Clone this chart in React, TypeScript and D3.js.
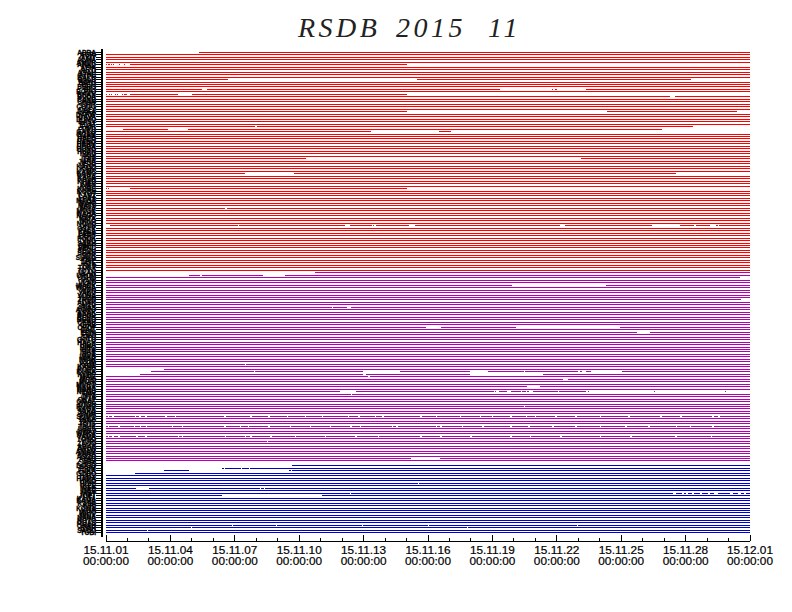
import React, { useEffect, useRef } from "react";
import * as d3 from "d3";

// station codes on the y axis overlap into a solid band in the source image,
// so these are placeholders of similar length, not readings
const redStations = (
  "ABRA AGRI AKIT ALMA AMUR ANAD APIA ARTI ASAH ATHE " +
  "BAKU BALD BATU BEIJ BERG BILI BOGO BRAN BUDA CANB " +
  "CHAN CHIT COCO DAEJ DAKA DARW DAVA DUMO EASY ELAT " +
  "FAIR FUKU GAKO GUAM HABA HALO HANO HERM HOBA HONG " +
  "HUAN IRKU ISHI ITAB JAKA JEJU KAGO KAKI KAMC KANO " +
  "KARA KASH KHAB KIEV KIRU KOBE KOCH KYOT LANZ LHAS " +
  "MAGA MANI MATS MIYA MOSK NAHA NAGO NATA NIKO NOVO " +
  "OKIN OSAK PALA PARA PERT PODK QING SAKH SAPP SEND " +
  "SEOU SHAN SITK SUWO TAIP TATE TIKS TOKY TOYO"
).split(" ");
const purpleStations = (
  "ULAN URUM USHU VANI VLAD WAKK WUHA XIAN YAKU YONA " +
  "YUZH ZHON ADAK AIZU AKAS AOMO ARAK BAND BENG BOSO " +
  "CEBU CHIB CHOF DAIT EBIN FUJI GIFU GOTO HACH HIDA " +
  "HIRO HITA IBAR IIDA IMAB IWAK IZUM KAMI KANA KOFU " +
  "KUMA KURE MAIZ MITO MORI MURO NAGA NARA NEMU NIIG " +
  "OITA OKAY OMAE OTSU RUMO SAGA SAKA SHIM SUMO TAKA " +
  "TANE TOTT TSUK UBEE UWAJ WAKA YAMA YOKO YURI ZAOO " +
  "ABAS AKUN AMAM ANNA ASOO AYAB BIEI CHOS"
).split(" ");
const blueStations = (
  "DOGO ERIM FUKA GOBO HAGI HAMA HIKO HOKI IKEE " +
  "INAB ISEE IWAT JOET KAGA KAMA KASA KIRI KOMA KUJI " +
  "MIHO MINA NANA NOTO OGAS ONAH RISH SADO TOBI"
).split(" ");
const stations = [...redStations, ...purpleStations, ...blueStations];

const startDate = new Date(Date.UTC(2015, 10, 1));
const endDate = new Date(Date.UTC(2015, 11, 1));
const majorDates = d3.utcDay.range(startDate, d3.utcDay.offset(endDate, 1), 3);

const titleWords = ["RSDB", "2015", "11"];

// outages per station row: [row, from, to], days after 15.11.01 00:00
const redGaps: [number, number, number][] = [
  [0, 0, 4.33],
  [5, 0.03, 0.09], [5, 0.19, 0.23], [5, 0.28, 0.33], [5, 0.37, 0.61], [5, 0.65, 0.84], [5, 0.89, 1.12], [5, 14.02, 30],
  [11, 5.68, 14.49], [11, 27.25, 30],
  [15, 4.47, 4.7], [15, 18.35, 20.78], [15, 20.82, 20.92], [15, 21.01, 22.36],
  [17, 0.05, 0.14], [17, 0.19, 0.23], [17, 0.28, 0.42], [17, 0.47, 0.51], [17, 0.56, 0.75], [17, 0.79, 0.84], [17, 0.98, 1.12], [17, 3.35, 4.01], [17, 14.02, 30],
  [18, 26.27, 26.51],
  [24, 14.02, 23.34], [24, 29.39, 30],
  [30, 6.94, 7.03], [30, 27.34, 30],
  [31, 0, 0.79], [31, 2.89, 3.82], [31, 25.9, 30],
  [32, 12.34, 15.51], [32, 16.07, 30],
  [43, 9.32, 22.13],
  [49, 6.47, 8.76], [49, 26.55, 30],
  [55, 0.05, 0.09], [55, 0.14, 1.12], [55, 14.02, 30],
  [63, 5.54, 5.64],
  [70, 0, 0.19], [70, 6.15, 6.2], [70, 11.13, 11.37], [70, 12.39, 12.44], [70, 12.48, 12.58], [70, 14.11, 14.39], [70, 21.15, 21.38], [70, 25.43, 26.74], [70, 27.39, 27.48], [70, 28.14, 28.42], [70, 28.51, 28.56],
];

const purpleGaps: [number, number, number][] = [
  [89, 0, 9.74],
  [90, 0, 3.87], [90, 4.38, 4.47], [90, 7.31, 8.34],
  [91, 29.53, 30],
  [94, 18.91, 23.29],
  [100, 29.58, 30],
  [103, 10.53, 10.57], [103, 11.23, 11.41],
  [111, 14.91, 15.61], [111, 19.1, 23.94],
  [113, 24.74, 25.34],
  [126, 6.47, 6.52],
  [128, 0, 2.7],
  [129, 0, 2.1], [129, 6.89, 6.94], [129, 11.97, 13.7], [129, 16.96, 17.79], [129, 19.47, 19.52], [129, 21.99, 22.08], [129, 22.17, 22.36], [129, 22.59, 24.04],
  [130, 0, 1.58], [130, 11.97, 12.11], [130, 16.96, 20.36],
  [131, 12.2, 12.3],
  [132, 21.29, 21.52],
  [135, 19.61, 20.22],
  [137, 10.9, 11.65], [137, 18.07, 18.12], [137, 18.17, 18.31], [137, 18.68, 18.87], [137, 19.33, 19.38], [137, 19.56, 19.61], [137, 19.7, 19.89], [137, 21.06, 21.1], [137, 22.36, 22.45], [137, 22.5, 25.53], [137, 25.58, 28.83], [137, 28.88, 30],
  [138, 11.41, 11.46],
  [143, 19.47, 19.52],
  [157, 7.5, 7.55],
  [164, 14.21, 15.56],
  [166, 0, 30],
];

const blueGaps: [number, number, number][] = [
  [167, 0, 8.66],
  [168, 0, 5.4], [168, 5.5, 5.54], [168, 6.29, 6.34], [168, 6.66, 6.71],
  [169, 0, 2.7], [169, 3.87, 8.52], [169, 8.62, 8.66],
  [170, 0, 1.35],
  [174, 14.53, 14.58],
  [176, 1.4, 2.0], [176, 7.17, 7.22], [176, 7.36, 7.41],
  [178, 11.37, 11.42], [178, 26.41, 26.55], [178, 26.83, 26.93], [178, 27.02, 27.11], [178, 27.3, 27.39], [178, 27.67, 27.76], [178, 28.04, 28.14], [178, 28.32, 28.51], [178, 29.07, 29.21], [178, 29.44, 29.58], [178, 29.72, 29.81],
  [179, 5.4, 10.06],
  [191, 5.87, 5.92], [191, 7.92, 7.97], [191, 11.93, 11.98], [191, 15.0, 15.05], [191, 21.94, 21.99],
  [192, 3.96, 4.01], [192, 16.82, 16.87],
  [193, 1.91, 1.96],
];

// rows with many brief dropouts, start of each one in days
const dropRow147 = [0.09, 0.28, 1.35, 1.54, 1.82, 2.75, 3.21, 5.5, 6.71, 7.55, 8.43, 9.27, 10.06, 11.27, 11.74, 12.53, 12.86, 14.63, 15.37, 16.49, 17.42, 17.98, 18.82, 19.56, 19.98, 20.92, 21.85, 23.01, 24.32, 25.81, 26.74, 28.23, 28.51];
const dropRow151 = [0.09, 0.56, 1.3, 1.58, 1.86, 3.07, 3.54, 5.5, 6.24, 6.61, 7.55, 8.57, 9.5, 10.43, 11.37, 11.83, 13.32, 13.51, 15.37, 15.56, 16.58, 17.52, 18.82, 19.66, 20.78, 21.85, 23.01, 24.18, 25.25, 26.55, 27.2, 28.23];
const dropRow155 = [0.09, 0.28, 0.56, 1.4, 1.82, 3.35, 3.54, 5.54, 6.47, 6.71, 7.64, 8.8, 10.2, 11.6, 12.67, 14.63, 15.56, 16.96, 18.82, 19.75, 21.15, 23.01, 24.41, 26.51, 28.18];

const App: React.FC = () => {
  const svgRef = useRef<SVGSVGElement | null>(null);

  useEffect(() => {
    if (!svgRef.current) return;
    const svg = d3.select(svgRef.current);
    svg.selectAll("*").remove();

    const x = d3.scaleUtc().domain([startDate, endDate]).range([106, 750]);
    const dayX = d3.scaleLinear().domain([0, 30]).range([106, 750]);
    const y = d3.scaleLinear().domain([0, stations.length - 1]).range([52.3, 532.8]);
    const rowY = (i: number) => Math.floor(y(i)) + 0.5;

    const color = d3
      .scaleThreshold<number, string>()
      .domain([redStations.length, redStations.length + purpleStations.length])
      .range(["#ff0000", "#b000b0", "#0000cc"]);

    // group outages by row then take the complement to get the data segments
    const allGaps = [...redGaps, ...purpleGaps, ...blueGaps];
    dropRow147.forEach((d) => allGaps.push([147, d, d + 0.07]));
    dropRow151.forEach((d) => allGaps.push([151, d, d + 0.07]));
    dropRow155.forEach((d) => allGaps.push([155, d, d + 0.07]));
    const gapsByRow = d3.group(allGaps, (d) => d[0]);

    const segments: { row: number; from: number; to: number }[] = [];
    stations.forEach((_, row) => {
      const gaps = (gapsByRow.get(row) || []).slice().sort((a, b) => a[1] - b[1]);
      let pos = 0;
      gaps.forEach((g) => {
        if (g[1] > pos) segments.push({ row, from: pos, to: g[1] });
        pos = Math.max(pos, g[2]);
      });
      if (pos < 30) segments.push({ row, from: pos, to: 30 });
    });

    svg
      .append("g")
      .attr("shape-rendering", "crispEdges")
      .selectAll("line")
      .data(segments)
      .join("line")
      .attr("x1", (d) => dayX(d.from))
      .attr("x2", (d) => dayX(d.to))
      .attr("y1", (d) => rowY(d.row))
      .attr("y2", (d) => rowY(d.row))
      .attr("stroke", (d) => color(d.row))
      .attr("stroke-width", 1);

    // y axis, one tick and one label per station
    svg
      .append("g")
      .selectAll("text")
      .data(stations)
      .join("text")
      .attr("x", 96)
      .attr("y", (_, i) => rowY(i) + 2.5)
      .attr("text-anchor", "end")
      .attr("font-family", "Liberation Sans")
      .attr("font-weight", "bold")
      .attr("font-size", 6.5)
      .attr("fill", "#000")
      .attr("stroke", "#000")
      .attr("stroke-width", 0.3)
      .text((d) => d);

    const yAxis = svg.append("g").attr("shape-rendering", "crispEdges");
    yAxis
      .append("line")
      .attr("x1", 102)
      .attr("x2", 102)
      .attr("y1", 49)
      .attr("y2", 537)
      .attr("stroke", "#000")
      .attr("stroke-width", 2);
    yAxis
      .selectAll("line.tick")
      .data(stations)
      .join("line")
      .attr("class", "tick")
      .attr("x1", 96)
      .attr("x2", 101)
      .attr("y1", (_, i) => rowY(i))
      .attr("y2", (_, i) => rowY(i))
      .attr("stroke", "#000");

    // x axis, daily minor ticks and a labelled major tick every third day
    const minorAxis = d3
      .axisBottom(x)
      .tickValues(d3.utcDay.range(startDate, d3.utcDay.offset(endDate, 1)))
      .tickSizeInner(-3.5)
      .tickSizeOuter(0)
      .tickFormat(() => "");
    const majorAxis = d3
      .axisBottom(x)
      .tickValues(majorDates)
      .tickSizeInner(-6)
      .tickSizeOuter(0)
      .tickFormat(() => "");
    [minorAxis, majorAxis].forEach((axis) => {
      const g = svg
        .append("g")
        .attr("transform", "translate(-0.5,541)")
        .attr("shape-rendering", "crispEdges")
        .call(axis);
      g.selectAll("path,line").attr("stroke", "#000");
    });

    const fmt = d3.utcFormat("%y.%m.%d");
    const labels = svg
      .append("g")
      .attr("font-family", "Liberation Sans")
      .attr("font-size", 11.8)
      .attr("text-anchor", "middle")
      .attr("fill", "#000")
      .attr("stroke", "#000")
      .attr("stroke-width", 0.2);
    majorDates.forEach((d) => {
      labels.append("text").attr("x", x(d)).attr("y", 553.5).text(fmt(d));
      labels.append("text").attr("x", x(d)).attr("y", 565).text("00:00:00");
    });

    const titleX = d3.scalePoint<string>().domain(titleWords).range([298, 488]);
    svg
      .append("g")
      .selectAll("text")
      .data(titleWords)
      .join("text")
      .attr("x", (d, i) => (i === 1 ? 396 : titleX(d) as number))
      .attr("y", 37)
      .attr("font-family", "Liberation Serif")
      .attr("font-style", "italic")
      .attr("font-size", 28)
      .attr("letter-spacing", 3.5)
      .attr("fill", "#222")
      .text((d) => d);
  }, []);

  return (
    <svg
      ref={svgRef}
      width={792}
      height={612}
      style={{ position: "absolute", left: 0, top: 0, background: "#fff" }}
    />
  );
};

export default App;
